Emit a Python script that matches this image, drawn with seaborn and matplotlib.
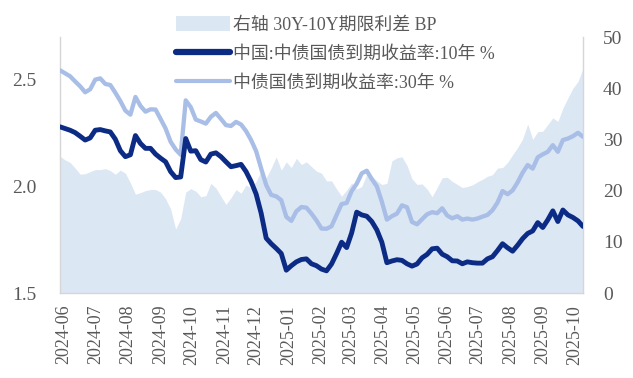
import matplotlib
matplotlib.use('Agg')
import matplotlib.pyplot as plt
import matplotlib.dates as mdates
from matplotlib.patches import Patch
from matplotlib.lines import Line2D
import seaborn as sns
import pandas as pd

# ---- data ----
start_date = '2024-05-28'
end_date = '2025-10-09'

y10 = [2.279, 2.271, 2.263, 2.252, 2.235, 2.217, 2.227, 2.263, 2.266, 2.260,
       2.255, 2.221, 2.167, 2.139, 2.148, 2.238, 2.201, 2.178, 2.178, 2.151,
       2.132, 2.115, 2.069, 2.041, 2.044, 2.224, 2.165, 2.167, 2.125, 2.114,
       2.151, 2.157, 2.139, 2.115, 2.092, 2.097, 2.103, 2.069, 2.022, 1.964,
       1.874, 1.757, 1.731, 1.709, 1.685, 1.607, 1.628, 1.646, 1.657, 1.660,
       1.637, 1.628, 1.612, 1.604, 1.636, 1.685, 1.738, 1.713, 1.782, 1.879,
       1.866, 1.860, 1.835, 1.796, 1.738, 1.642, 1.650, 1.656, 1.653, 1.637,
       1.626, 1.636, 1.665, 1.681, 1.707, 1.710, 1.682, 1.670, 1.651, 1.650,
       1.637, 1.646, 1.642, 1.640, 1.640, 1.660, 1.670, 1.699, 1.731, 1.712,
       1.696, 1.724, 1.755, 1.779, 1.791, 1.830, 1.807, 1.843, 1.885, 1.835,
       1.889, 1.866, 1.854, 1.838, 1.812]

y30 = [2.544, 2.530, 2.516, 2.492, 2.469, 2.441, 2.455, 2.500, 2.506, 2.480,
       2.475, 2.439, 2.400, 2.355, 2.336, 2.419, 2.377, 2.350, 2.361, 2.360,
       2.316, 2.271, 2.209, 2.173, 2.148, 2.403, 2.371, 2.313, 2.304, 2.294,
       2.326, 2.344, 2.316, 2.287, 2.283, 2.302, 2.290, 2.259, 2.217, 2.165,
       2.084, 2.006, 1.960, 1.953, 1.935, 1.857, 1.838, 1.883, 1.903, 1.900,
       1.872, 1.840, 1.802, 1.801, 1.813, 1.866, 1.917, 1.922, 1.978, 2.012,
       2.061, 2.073, 2.034, 2.000, 1.928, 1.844, 1.860, 1.872, 1.911, 1.902,
       1.833, 1.822, 1.846, 1.869, 1.879, 1.874, 1.897, 1.863, 1.850, 1.860,
       1.844, 1.849, 1.844, 1.849, 1.858, 1.866, 1.888, 1.924, 1.978, 1.963,
       1.981, 2.019, 2.064, 2.100, 2.083, 2.136, 2.150, 2.162, 2.193, 2.162,
       2.217, 2.224, 2.235, 2.251, 2.232]

spread = [26.7, 26.0, 25.5, 24.4, 23.2, 23.3, 23.7, 24.1, 24.1, 24.3,
          23.9, 23.2, 24.0, 23.4, 21.5, 19.3, 19.6, 20.0, 20.2, 20.2,
          19.7, 18.4, 16.4, 12.5, 14.5, 19.7, 20.4, 19.9, 18.8, 19.0,
          21.4, 20.5, 18.9, 17.3, 18.6, 20.2, 19.5, 21.1, 20.5, 21.8,
          23.8, 22.5, 24.4, 26.6, 24.0, 25.6, 24.5, 26.3, 25.1, 25.6,
          24.7, 23.8, 23.4, 21.9, 21.9, 20.3, 18.9, 20.1, 21.5, 20.3,
          20.8, 23.2, 22.8, 21.9, 21.2, 21.4, 25.8, 26.4, 26.6, 24.9,
          22.3, 21.2, 21.3, 20.3, 18.8, 20.6, 22.5, 22.6, 21.8, 21.2,
          20.6, 20.8, 21.1, 21.7, 22.2, 22.8, 23.1, 24.4, 24.5, 25.5,
          27.0, 28.4, 30.1, 33.0, 30.0, 31.5, 31.6, 32.9, 34.2, 33.5,
          36.1, 38.1, 40.0, 41.3, 43.9]

labels = ['右轴 30Y-10Y期限利差 BP',
          '中国:中债国债到期收益率:10年 %',
          '中债国债到期收益率:30年 %']
left_ticks = [1.5, 2.0, 2.5]
right_ticks = [0, 10, 20, 30, 40, 50]

# ---- styling ----
AREA = '#dce7f4'
DARK = '#0b2b85'
LIGHT = '#a9bee6'
TXT = '#595959'
SPINE = '#d6d6d6'

sns.set_theme(style='white')
plt.rcParams['font.family'] = ['Liberation Serif', 'Noto Sans CJK SC', 'DejaVu Sans']

dates = pd.date_range(start_date, end_date, periods=len(y10))
df = pd.DataFrame({'date': dates, 'y10': y10, 'y30': y30, 'spread': spread})

W, H = 633, 378
fig = plt.figure(figsize=(W / 100, H / 100), dpi=100)
ax_area = fig.add_axes([60 / W, 1 - 293 / H, (583 - 60) / W, (293 - 37) / H])
ax_area.fill_between(df['date'], 0, df['spread'], color=AREA, lw=0)
ax_area.set_ylim(0, 50)

ax_lines = ax_area.twinx()
sns.lineplot(data=df, x='date', y='y30', ax=ax_lines, color=LIGHT, lw=3.1)
sns.lineplot(data=df, x='date', y='y10', ax=ax_lines, color=DARK, lw=3.5)
ax_lines.set_ylim(1.5, 2.7)
ax_lines.set_xlabel('')
ax_lines.set_ylabel('')
ax_area.set_xlabel('')
ax_area.set_ylabel('')

# axis sides: lines on the left scale, area on the right scale
ax_lines.yaxis.set_ticks_position('left')
ax_lines.yaxis.set_label_position('left')
ax_area.yaxis.set_ticks_position('right')

ax_lines.set_yticks(left_ticks)
ax_lines.set_yticklabels([f'{v:.1f}' for v in left_ticks])
ax_area.set_yticks(right_ticks)
ax_area.set_yticklabels([str(v) for v in right_ticks])

ax_area.xaxis.set_major_locator(mdates.MonthLocator())
ax_area.xaxis.set_major_formatter(mdates.DateFormatter('%Y-%m'))
ax_area.set_xlim(dates[0], dates[-1])

ax_lines.tick_params(axis='y', length=0, pad=17, labelsize=14, labelcolor=TXT)
ax_area.tick_params(axis='y', length=0, pad=14.4, labelsize=14, labelcolor=TXT,
                    left=False, labelleft=False, right=True, labelright=True)
ax_area.tick_params(axis='x', length=0, pad=8.5, labelsize=13, labelcolor=TXT,
                    labelrotation=90)

for s in ax_lines.spines.values():
    s.set_visible(False)
ax_area.spines['top'].set_visible(False)
for k in ('left', 'right', 'bottom'):
    ax_area.spines[k].set_color(SPINE)
    ax_area.spines[k].set_linewidth(1.0)
ax_area.grid(False)
ax_lines.grid(False)

handles = [Patch(facecolor=AREA, edgecolor='none'),
           Line2D([], [], color=DARK, lw=4.5, solid_capstyle='round'),
           Line2D([], [], color=LIGHT, lw=3.0)]
fig.legend(handles, labels, loc='upper left',
           bbox_to_anchor=(176 / W, 1 - 16 / H), frameon=False,
           prop={'family': ['Liberation Serif', 'Noto Sans CJK SC'], 'size': 12.9},
           labelcolor=TXT, handlelength=3.0, handleheight=0.9,
           handletextpad=0.2, labelspacing=0.64, borderpad=0, borderaxespad=0)

fig.savefig('out.png', dpi=100)
